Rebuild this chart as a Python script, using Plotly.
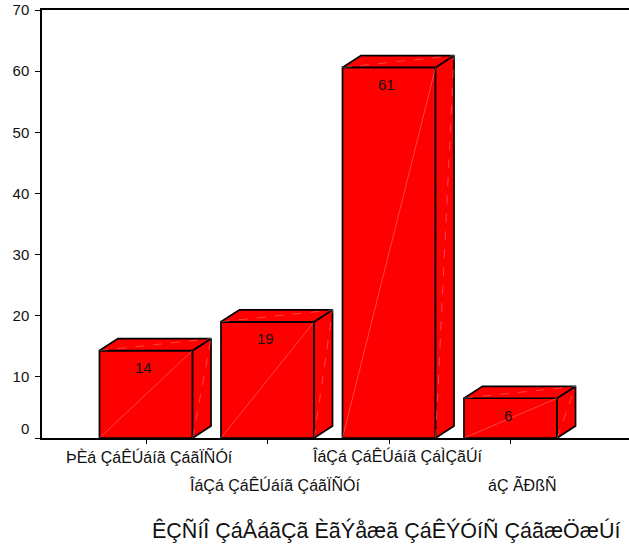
import plotly.graph_objects as go

categories = ["ÞÈá ÇáÊÚáíã ÇáãÏÑÓí", "ÎáÇá ÇáÊÚáíã ÇáãÏÑÓí", "ÎáÇá ÇáÊÚáíã ÇáÌÇãÚí", "áÇ ÃÐßÑ"]
values = [14.3, 19.0, 60.6, 6.5]
labels = ["14", "19", "61", "6"]
y_ticks = [0, 10, 20, 30, 40, 50, 60, 70]
title = "ÊÇÑíÎ ÇáÅáãÇã ÈãÝåæã ÇáÊÝÓíÑ ÇáãæÖæÚí"

W, H = 629, 549
L, T, B = 42, 10, 111
x_range = [-0.856, 3.975]
y_range = [0, 70]
half = 0.383
dx = 0.152
dy = 1.95
RED = "#ff0000"
LIGHT = "rgba(255,190,190,0.6)"
FONT = "Liberation Sans, Arial, sans-serif"
TEXT = "#111"

x_pos = list(range(len(categories)))
fig = go.Figure()
fig.add_trace(go.Bar(x=x_pos, y=values, width=2 * half,
                     marker=dict(color=RED, line=dict(color="#000", width=1.7)),
                     hoverinfo="skip", showlegend=False))

def face(xs, ys):
    fig.add_trace(go.Scatter(x=xs, y=ys, mode="lines", fill="toself", fillcolor=RED,
                             line=dict(color="#000", width=1.7), hoverinfo="skip",
                             showlegend=False, cliponaxis=False))

def seam(xs, ys, dash="solid"):
    fig.add_trace(go.Scatter(x=xs, y=ys, mode="lines", line=dict(color=LIGHT, width=0.6, dash=dash),
                             hoverinfo="skip", showlegend=False, cliponaxis=False))

for i, v in zip(x_pos, values):
    l, r = i - half, i + half
    face([r, r + dx, r + dx, r, r], [0, dy, v + dy, v, 0])
    face([l, l + dx, r + dx, r, l], [v, v + dy, v + dy, v, v])
    seam([l, r], [0, v])
    seam([r, r + dx], [0, v + dy], "dash")
    seam([l, r + dx], [v, v + dy], "dash")

for i, v, t in zip(x_pos, values, labels):
    fig.add_annotation(x=i, y=v, text=t, showarrow=False, yshift=-17, xshift=-2.5,
                       font=dict(family=FONT, size=15, color=TEXT))

plot_h = H - B - T
def paper_y(py):
    return (H - B - py) / plot_h

for i, c, shift, row_y in zip(x_pos, categories, [3.5, 6.5, 8.5, 11], [456, 484, 456, 484]):
    fig.add_annotation(x=i, xref="x", y=paper_y(row_y), yref="paper", text=c, showarrow=False,
                       xanchor="center", yanchor="middle", xshift=shift,
                       font=dict(family=FONT, size=16, color=TEXT))

fig.update_xaxes(range=x_range, tickmode="array", tickvals=x_pos, showticklabels=False,
                 ticks="outside", ticklen=4, tickwidth=1, tickcolor="#000",
                 showline=True, linecolor="#000", linewidth=1.5, mirror=True,
                 showgrid=False, zeroline=False)
fig.update_yaxes(range=y_range, tickmode="array", tickvals=y_ticks,
                 ticktext=["0<br> "] + [str(t) for t in y_ticks[1:]],
                 ticks="outside", ticklen=5, tickwidth=1, tickcolor="#000",
                 ticklabelstandoff=3,
                 showline=True, linecolor="#000", linewidth=1.5,
                 showgrid=False, zeroline=False,
                 tickfont=dict(family=FONT, size=15, color=TEXT))
fig.add_annotation(xref="paper", yref="paper", x=(386 - L) / (W - L), y=paper_y(530),
                   xanchor="center", yanchor="middle",
                   text=title, showarrow=False, font=dict(family=FONT, size=21.5, color=TEXT))
fig.update_layout(width=W, height=H, margin=dict(l=L, r=0, t=T, b=B, pad=0),
                  paper_bgcolor="#fff", plot_bgcolor="#fff", showlegend=False, barmode="overlay")
fig.write_html("out.html", config={"displayModeBar": False},
               post_script="document.body.style.margin='0';")
